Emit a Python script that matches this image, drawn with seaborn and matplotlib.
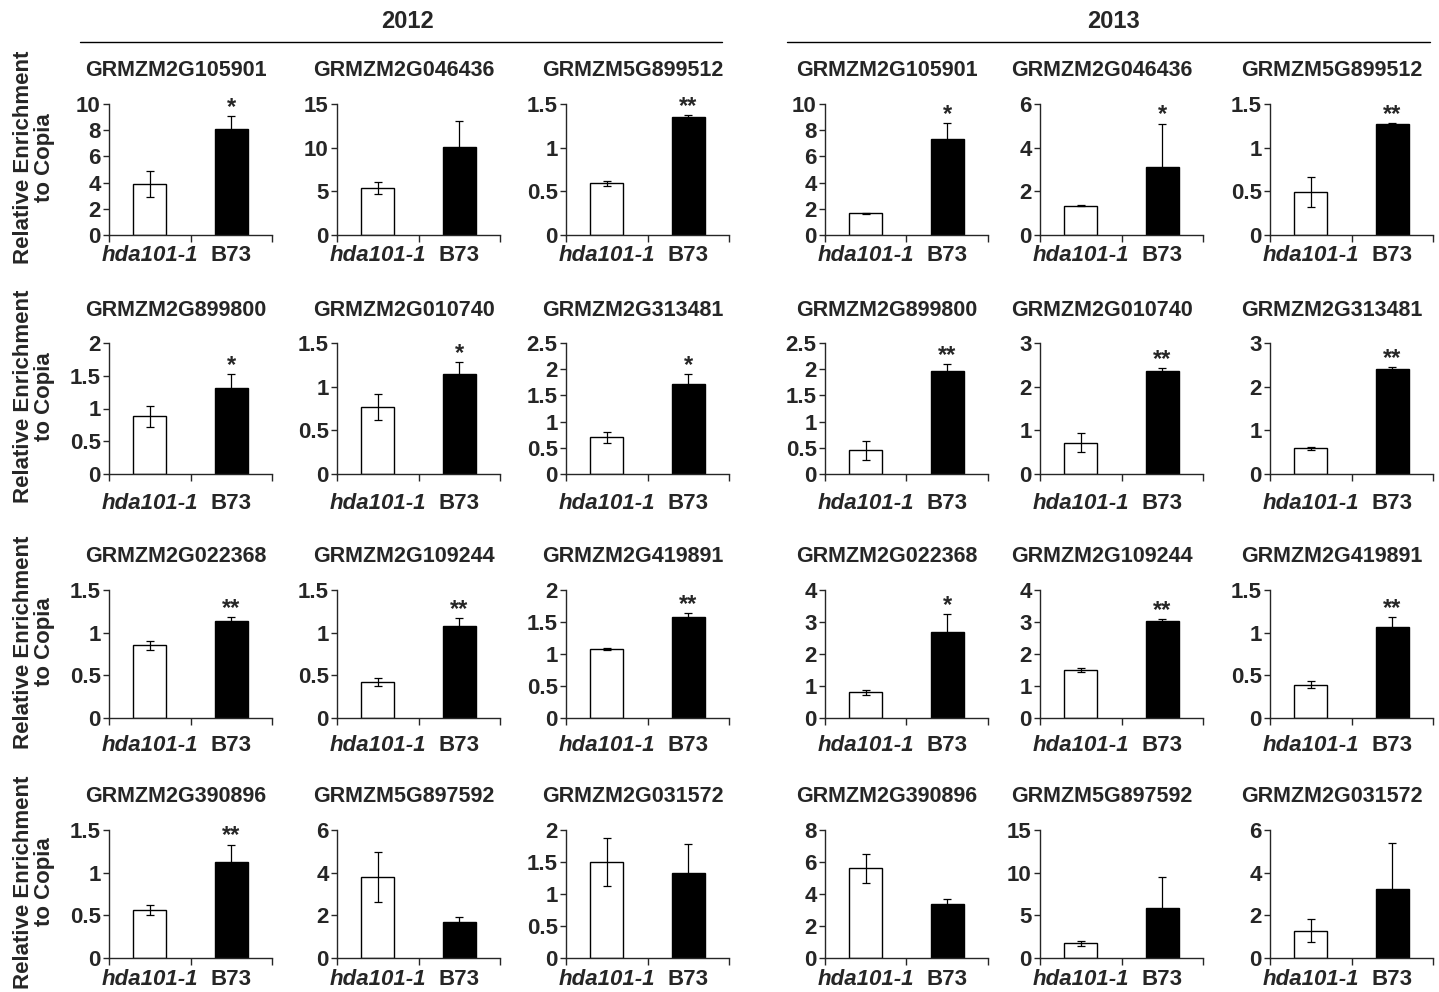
import matplotlib
matplotlib.use("Agg")
import matplotlib.pyplot as plt
from matplotlib.lines import Line2D
import numpy as np
import pandas as pd
import seaborn as sns

genes = ["GRMZM2G105901", "GRMZM2G046436", "GRMZM5G899512",
         "GRMZM2G899800", "GRMZM2G010740", "GRMZM2G313481",
         "GRMZM2G022368", "GRMZM2G109244", "GRMZM2G419891",
         "GRMZM2G390896", "GRMZM5G897592", "GRMZM2G031572"]
genotypes = ["hda101-1", "B73"]

# 2012
hda_2012 = [3.9, 5.4, 0.59, 0.88, 0.77, 0.70, 0.85, 0.42, 1.08, 0.56, 3.78, 1.50]
hda_2012_err = [1.0, 0.65, 0.03, 0.16, 0.15, 0.10, 0.05, 0.05, 0.01, 0.06, 1.17, 0.38]
b73_2012 = [8.1, 10.1, 1.35, 1.32, 1.15, 1.72, 1.14, 1.08, 1.58, 1.13, 1.70, 1.33]
b73_2012_err = [0.95, 2.9, 0.02, 0.20, 0.13, 0.19, 0.04, 0.09, 0.06, 0.20, 0.20, 0.45]
sig_2012 = ["*", "", "**", "*", "*", "*", "**", "**", "**", "**", "", ""]
ytop_2012 = [10, 15, 1.5, 2, 1.5, 2.5, 1.5, 1.5, 2, 1.5, 6, 2]
ystep_2012 = [2, 5, 0.5, 0.5, 0.5, 0.5, 0.5, 0.5, 0.5, 0.5, 2, 0.5]

# 2013
hda_2013 = [1.65, 1.35, 0.49, 0.45, 0.72, 0.59, 0.80, 1.50, 0.39, 5.6, 1.70, 1.28]
hda_2013_err = [0.03, 0.03, 0.17, 0.18, 0.22, 0.03, 0.08, 0.07, 0.04, 0.93, 0.25, 0.55]
b73_2013 = [7.3, 3.1, 1.27, 1.96, 2.37, 2.41, 2.70, 3.03, 1.07, 3.35, 5.9, 3.25]
b73_2013_err = [1.25, 2.0, 0.015, 0.14, 0.05, 0.04, 0.55, 0.05, 0.11, 0.33, 3.65, 2.15]
sig_2013 = ["*", "*", "**", "**", "**", "**", "*", "**", "**", "", "", ""]
ytop_2013 = [10, 6, 1.5, 2.5, 3, 3, 4, 4, 1.5, 8, 15, 6]
ystep_2013 = [2, 2, 0.5, 0.5, 1, 1, 1, 1, 0.5, 2, 5, 2]

sns.set_style("ticks")
plt.rcParams["font.family"] = ["Liberation Sans", "DejaVu Sans"]

W, H = 1439, 992
fig = plt.figure(figsize=(W / 100, H / 100), dpi=100)

col_x = {2012: [109, 337, 566], 2013: [825, 1040, 1270]}
panel_w = 163
row_top = [104, 343, 590, 830]
row_bot = [235, 474, 718, 958]
row_pad = [7, 14, 12, 8]

years = {
    2012: (hda_2012, hda_2012_err, b73_2012, b73_2012_err, sig_2012, ytop_2012, ystep_2012),
    2013: (hda_2013, hda_2013_err, b73_2013, b73_2013_err, sig_2013, ytop_2013, ystep_2013),
}

for year, (hda, hda_err, b73, b73_err, sig, ytop, ystep) in years.items():
    for i, gene in enumerate(genes):
        r, c = divmod(i, 3)
        x0 = col_x[year][c]
        ax = fig.add_axes([x0 / W, 1 - row_bot[r] / H, panel_w / W, (row_bot[r] - row_top[r]) / H])
        df = pd.DataFrame({"genotype": genotypes, "value": [hda[i], b73[i]],
                           "err": [hda_err[i], b73_err[i]]})
        sns.barplot(data=df, x="genotype", y="value", hue="genotype",
                    palette=["white", "black"], edgecolor="black", linewidth=1,
                    width=0.4, legend=False, ax=ax)
        ax.errorbar(range(len(df)), df["value"], yerr=df["err"], fmt="none",
                    ecolor="black", elinewidth=0.9, capsize=3, capthick=0.9)
        if sig[i]:
            ax.annotate(sig[i], (1, b73[i] + b73_err[i]), xytext=(0, -2),
                        textcoords="offset points", ha="center", va="bottom",
                        fontsize=17, fontweight="bold")
        ax.set_xlim(-0.5, 1.5)
        ax.set_ylim(0, ytop[i])
        ticks = np.arange(0, ytop[i] + ystep[i] / 2, ystep[i])
        ax.set_yticks(ticks)
        ax.set_yticklabels([f"{t:g}" for t in ticks], fontsize=16, fontweight="bold")
        ax.set_xticks([-0.5, 0.5, 1.5])
        ax.set_xticklabels([])
        ax.set_xticks([0, 1], minor=True)
        ax.set_xticklabels(genotypes, minor=True, fontsize=16, fontweight="bold")
        ax.get_xticklabels(minor=True)[0].set_style("italic")
        ax.tick_params(axis="x", which="major", length=5, width=1, direction="out")
        ax.tick_params(axis="x", which="minor", length=0, pad=row_pad[r])
        ax.tick_params(axis="y", length=4, width=1, pad=2)
        ax.set_xlabel("")
        ax.set_ylabel("")
        for s in ["left", "bottom"]:
            ax.spines[s].set_linewidth(1)
        sns.despine(ax=ax)
        shift = 15 if year == 2012 else 20
        ax.text(0.5 - shift / panel_w, 1.0 + 33 / (row_bot[r] - row_top[r]), gene,
                transform=ax.transAxes, ha="center", va="center", fontsize=15.5,
                fontweight="bold")

for r in range(4):
    yc = (row_top[r] + row_bot[r]) / 2 - 12
    fig.text(34 / W, 1 - yc / H, "Relative Enrichment\nto Copia", rotation=90,
             ha="center", va="center", fontsize=16, fontweight="bold", linespacing=1.05)

fig.text(408 / W, 1 - 22 / H, "2012", ha="center", va="center", fontsize=17,
         fontweight="bold")
fig.text(1113 / W, 1 - 22 / H, "2013", ha="center", va="center", fontsize=17,
         fontweight="bold")
fig.add_artist(Line2D([80 / W, 722 / W], [1 - 42 / H] * 2, color="black", lw=1))
fig.add_artist(Line2D([787 / W, 1430 / W], [1 - 42 / H] * 2, color="black", lw=1))

fig.savefig("out.png", dpi=100)
